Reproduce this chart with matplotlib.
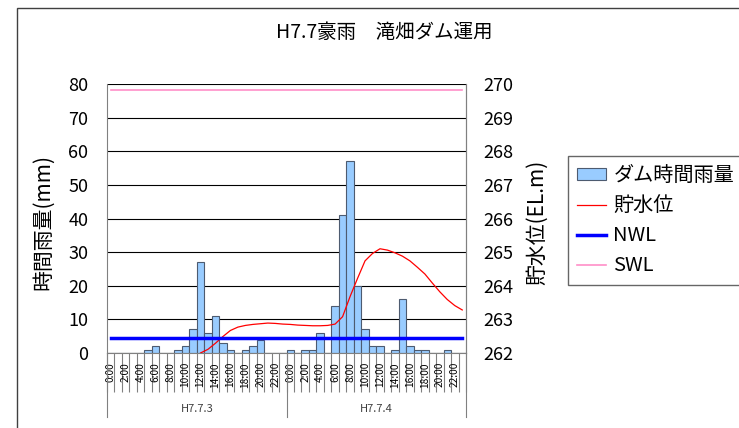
import numpy as np
import matplotlib
matplotlib.use('Agg')
import matplotlib.pyplot as plt
from matplotlib.patches import Patch, Rectangle
from matplotlib.lines import Line2D
from matplotlib.transforms import blended_transform_factory

plt.rcParams['font.family'] = ['Noto Sans CJK JP', 'DejaVu Sans']

# カテゴリ (1時間ごと, 2日分)
hours = [f'{h}:00' for h in range(24)] * 2
days = ['H7.7.3', 'H7.7.4']

# ダム時間雨量 (mm)
rain = [0, 0, 0, 0, 0, 1, 2, 0, 0, 1, 2, 7, 27, 6, 11, 3, 1, 0, 1, 2, 4, 0, 0, 0,
        1, 0, 1, 1, 6, 0, 14, 41, 57, 20, 7, 2, 2, 0, 1, 16, 2, 1, 1, 0, 0, 1, 0, 0]

# 貯水位 (EL.m)  12時から
level = [None] * 12 + [262.00, 262.11, 262.29, 262.49, 262.67, 262.77, 262.82, 262.85,
                       262.87, 262.89, 262.88, 262.86,
                       262.85, 262.83, 262.82, 262.81, 262.81, 262.82, 262.86, 263.08,
                       263.68, 264.22, 264.74, 264.96, 265.10, 265.06, 264.98, 264.88,
                       264.74, 264.55, 264.35, 264.08, 263.82, 263.59, 263.41, 263.28]
nwl = 262.45  # 常時満水位
swl = 269.83  # サーチャージ水位

W, H = 739, 428
fig = plt.figure(figsize=(W / 100, H / 100), dpi=100)
ax = fig.add_axes([107 / W, 1 - 353 / H, (466 - 107) / W, (353 - 84) / H])

n = len(rain)
x = np.arange(n)
ax.bar(x, rain, width=1.0, color='#99ccff', edgecolor='#4d5b70', linewidth=0.8, zorder=2)
ax.set_xlim(-0.5, n - 0.5)
ax.set_ylim(0, 80)
ax.set_yticks(range(0, 81, 10))
ax.grid(axis='y', color='black', linewidth=0.8)
ax.set_axisbelow(True)

# x軸: 1時間ごとの目盛線, 2時間ごとのラベル
ax.set_xticks(np.arange(-0.5, n, 1))
ax.set_xticklabels([])
ax.tick_params(axis='x', which='major', length=28, width=0.8, color='#808080', direction='out')
ax.set_xticks(x[::2], minor=True)
ax.set_xticklabels(hours[::2], minor=True, rotation=90, fontsize=7.3)
ax.tick_params(axis='x', which='minor', length=0, pad=6.5)

trans = blended_transform_factory(ax.transData, ax.transAxes)
for b in np.arange(0, n + 1, 24) - 0.5:
    ax.plot([b, b], [0, -(417 - 353) / 269], transform=trans, color='#808080', lw=0.8, clip_on=False)
for i, d in enumerate(days):
    ax.text(i * 24 + 11.5, -(409 - 353) / 269, d, transform=trans, ha='center', va='center',
            fontsize=8, color='#404040')

ax.tick_params(axis='y', length=0, pad=13.5, labelsize=13)
for s in ['left', 'right', 'bottom']:
    ax.spines[s].set_color('#808080')
ax.spines['top'].set_visible(False)

ax2 = ax.twinx()
ax2.plot(x, np.array(level, dtype=float), color='red', lw=0.9)
ax2.plot(x, [nwl] * n, color='blue', lw=2.5)
ax2.plot(x, [swl] * n, color='#ff8fc8', lw=1.2)
ax2.set_ylim(262, 270)
ax2.set_yticks(range(262, 271))
ax2.tick_params(axis='y', length=0, pad=12.5, labelsize=13)
for s in ['left', 'top', 'bottom']:
    ax2.spines[s].set_visible(False)
ax2.spines['right'].set_color('#808080')

fig.text(384 / W, 1 - 32 / H, 'H7.7豪雨　滝畑ダム運用', ha='center', va='center', fontsize=14)
fig.text(43 / W, 1 - 222 / H, '時間雨量(mm)', rotation=90, ha='center', va='center', fontsize=15)
fig.text(537 / W, 1 - 222 / H, '貯水位(EL.m)', rotation=90, ha='center', va='center', fontsize=15)

handles = [Patch(facecolor='#99ccff', edgecolor='#4d5b70', linewidth=0.8),
           Line2D([], [], color='red', lw=0.9),
           Line2D([], [], color='blue', lw=2.5),
           Line2D([], [], color='#ff8fc8', lw=1.2)]
labels = ['ダム時間雨量', '貯水位', 'NWL', 'SWL']
leg = fig.legend(handles, labels, loc='upper left', bbox_to_anchor=(568 / W, 1 - 156 / H),
                 fontsize=14.5, frameon=True, fancybox=False, edgecolor='#404040',
                 borderpad=0.45, labelspacing=0.45, handlelength=1.45, handleheight=0.5,
                 handletextpad=0.35, borderaxespad=0)
leg.get_frame().set_linewidth(1.0)

fig.add_artist(Rectangle((17 / W, -0.1), 1.5, 1.1 - 8 / H, transform=fig.transFigure,
                         fill=False, edgecolor='#404040', lw=1.0))

fig.savefig('out.png', dpi=100)
